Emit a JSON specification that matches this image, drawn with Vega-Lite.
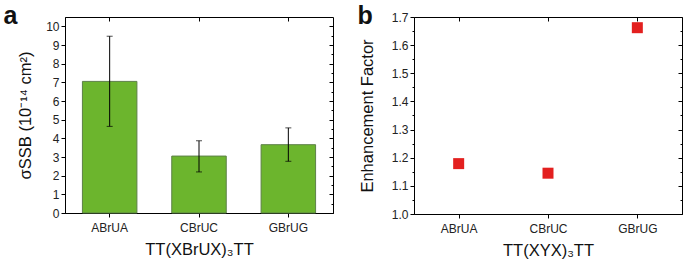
{
  "$schema": "https://vega.github.io/schema/vega-lite/v6.json",
  "padding": {"left": 2, "right": 3, "top": 2, "bottom": 2},
  "spacing": 22,
  "datasets": {
    "sigma": [
      {"seq": "ABrUA", "sigma": 7.05, "lo": 4.64, "hi": 9.47},
      {"seq": "CBrUC", "sigma": 3.05, "lo": 2.2, "hi": 3.87},
      {"seq": "GBrUG", "sigma": 3.66, "lo": 2.77, "hi": 4.56}
    ],
    "enh": [
      {"seq": "ABrUA", "factor": 1.179},
      {"seq": "CBrUC", "factor": 1.145},
      {"seq": "GBrUG", "factor": 1.662}
    ]
  },
  "hconcat": [
    {
      "width": 268,
      "height": 196,
      "data": {"name": "sigma"},
      "resolve": {"axis": {"x": "independent", "y": "independent"}},
      "layer": [
        {
          "mark": {"type": "bar", "color": "#6cb52d", "stroke": "#5d8048", "strokeWidth": 1},
          "encoding": {
            "x": {"field": "seq", "type": "nominal", "sort": null,
                  "scale": {"paddingInner": 0.39, "paddingOuter": 0.195},
                  "axis": {"orient": "bottom", "title": "TT(XBrUX)₃TT", "labelAngle": 0, "tickSize": 4, "labelPadding": 5, "titlePadding": 8}},
            "y": {"field": "sigma", "type": "quantitative",
                  "scale": {"domain": [0, 10.5], "nice": false, "zero": false},
                  "axis": {"orient": "left", "title": "σSSB (10⁻¹⁴ cm²)", "format": "d",
                           "values": [0,0.5,1,1.5,2,2.5,3,3.5,4,4.5,5,5.5,6,6.5,7,7.5,8,8.5,9,9.5,10],
                           "labelExpr": "datum.value % 1 != 0 ? '' : datum.label",
                           "tickSize": {"condition": {"test": "datum.value % 1 != 0", "value": 2}, "value": 4},
                           "labelPadding": 2, "titlePadding": 12, "grid": false}}
          }
        },
        {
          "mark": {"type": "rule", "color": "#000", "strokeWidth": 1},
          "encoding": {
            "x": {"field": "seq", "type": "nominal", "sort": null,
                  "axis": {"orient": "top", "title": "a", "labels": false, "domain": false, "tickSize": -4,
                           "titleX": -62, "titleY": 6, "titleAlign": "left", "titleBaseline": "alphabetic", "titleAnchor": null,
                           "titleFontSize": 25, "titleFontWeight": "bold", "titleColor": "#111"}},
            "y": {"field": "lo", "type": "quantitative",
                  "axis": {"orient": "right", "title": null, "labels": false, "domain": false,
                           "values": [0,0.5,1,1.5,2,2.5,3,3.5,4,4.5,5,5.5,6,6.5,7,7.5,8,8.5,9,9.5,10],
                           "tickSize": {"condition": {"test": "datum.value % 1 != 0", "value": -2}, "value": -4}}},
            "y2": {"field": "hi"}
          }
        },
        {
          "mark": {"type": "tick", "color": "#000", "size": 6, "thickness": 1},
          "encoding": {
            "x": {"field": "seq", "type": "nominal", "sort": null, "axis": null},
            "y": {"field": "lo", "type": "quantitative", "axis": null}
          }
        },
        {
          "mark": {"type": "tick", "color": "#000", "size": 6, "thickness": 1},
          "encoding": {
            "x": {"field": "seq", "type": "nominal", "sort": null, "axis": null},
            "y": {"field": "hi", "type": "quantitative", "axis": null}
          }
        }
      ]
    },
    {
      "width": 268,
      "height": 197,
      "data": {"name": "enh"},
      "resolve": {"axis": {"x": "independent", "y": "independent"}},
      "layer": [
        {
          "mark": {"type": "point", "shape": "square", "filled": true, "color": "#e3201f", "size": 121, "opacity": 1},
          "encoding": {
            "x": {"field": "seq", "type": "nominal", "sort": null,
                  "scale": {"paddingInner": 0.39, "paddingOuter": 0.195},
                  "axis": {"orient": "bottom", "title": "TT(XYX)₃TT", "labelAngle": 0, "tickSize": 4, "labelPadding": 5, "titlePadding": 8}},
            "y": {"field": "factor", "type": "quantitative",
                  "scale": {"domain": [1.0, 1.7], "nice": false, "zero": false},
                  "axis": {"orient": "left", "title": "Enhancement Factor",
                           "values": [1.0,1.05,1.1,1.15,1.2,1.25,1.3,1.35,1.4,1.45,1.5,1.55,1.6,1.65,1.7],
                           "format": ".1f",
                           "labelExpr": "round(datum.value*100) % 10 != 0 ? '' : datum.label",
                           "tickSize": {"condition": {"test": "round(datum.value*100) % 10 != 0", "value": 2}, "value": 4},
                           "labelPadding": 2, "titlePadding": 16, "grid": false}}
          }
        },
        {
          "mark": {"type": "point", "opacity": 0},
          "encoding": {
            "x": {"field": "seq", "type": "nominal", "sort": null,
                  "axis": {"orient": "top", "title": "b", "labels": false, "domain": false, "tickSize": -4,
                           "titleX": -57, "titleY": 6, "titleAlign": "left", "titleBaseline": "alphabetic", "titleAnchor": null,
                           "titleFontSize": 25, "titleFontWeight": "bold", "titleColor": "#111"}},
            "y": {"field": "factor", "type": "quantitative",
                  "axis": {"orient": "right", "title": null, "labels": false, "domain": false,
                           "values": [1.0,1.05,1.1,1.15,1.2,1.25,1.3,1.35,1.4,1.45,1.5,1.55,1.6,1.65,1.7],
                           "tickSize": {"condition": {"test": "round(datum.value*100) % 10 != 0", "value": -2}, "value": -4}}}
          }
        }
      ]
    }
  ],
  "config": {
    "font": "Liberation Sans",
    "view": {"stroke": "#000", "strokeWidth": 1},
    "axis": {
      "domainColor": "#000", "tickColor": "#000", "labelColor": "#222", "titleColor": "#111",
      "labelFont": "Liberation Sans", "titleFont": "Liberation Sans",
      "labelFontSize": 12, "titleFontSize": 16.5, "titleFontWeight": "normal",
      "domainWidth": 1, "tickWidth": 1
    }
  }
}
